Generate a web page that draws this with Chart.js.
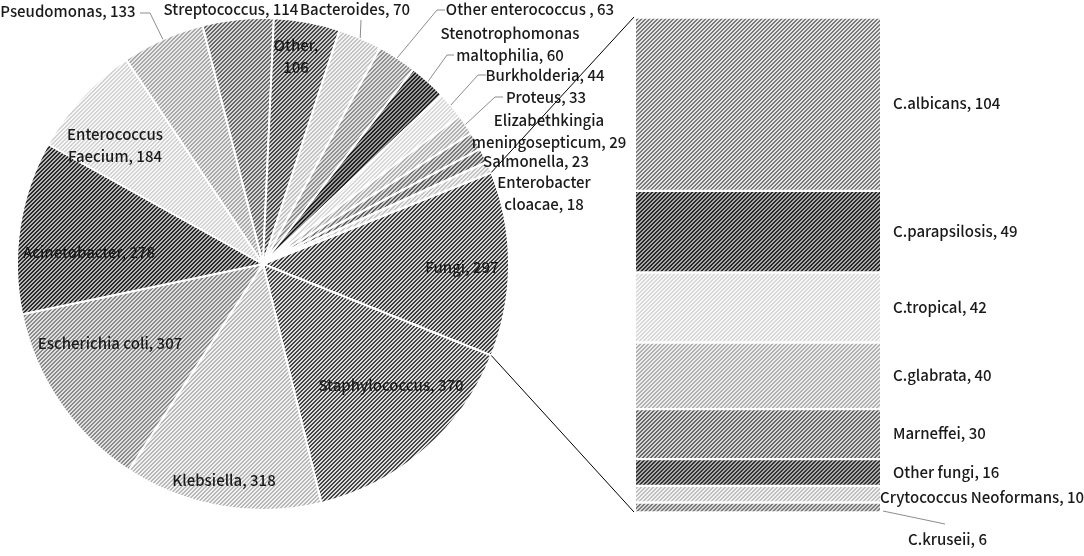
<!DOCTYPE html>
<html><head><meta charset="utf-8">
<script src="https://cdn.jsdelivr.net/npm/chart.js@4.4.0/dist/chart.umd.min.js"></script>
<style>
html,body{margin:0;padding:0;background:#fff;}
#wrap{position:relative;width:1084px;height:556px;}
canvas{position:absolute;left:0;top:0;}
</style></head><body>
<div id="wrap"><canvas id="pie" width="1084" height="556"></canvas><canvas id="bar" width="1084" height="556"></canvas></div>
<script>
// ---------- data ----------
const pieCategories = ['Fungi','Staphylococcus','Klebsiella','Escherichia coli','Acinetobacter','Enterococcus Faecium','Pseudomonas','Streptococcus','Other','Bacteroides','Other enterococcus ','Stenotrophomonas maltophilia','Burkholderia','Proteus','Elizabethkingia meningosepticum','Salmonella','Enterobacter cloacae'];
const pieValues = [297,370,318,307,278,184,133,114,106,70,63,60,44,33,29,23,18];
const fungiCategories = ['C.albicans','C.parapsilosis','C.tropical','C.glabrata','Marneffei','Other fungi','Crytococcus Neoformans','C.kruseii'];
const fungiValues = [104,49,42,40,30,16,10,6];

// ---------- styles ----------
const pieStyles = [
  ['#3c3c3c','#d6d6d6'],['#444444','#dedede'],['#b8b8b8','#f2f2f2'],['#8a8a8a','#e2e2e2'],
  ['#2a2a2a','#b6b6b6'],['#d2d2d2','#f8f8f8'],['#a8a8a8','#eaeaea'],['#666666','#d8d8d8'],
  ['#464646','#cccccc'],['#c4c4c4','#f3f3f3'],['#909090','#e0e0e0'],['#222222','#9c9c9c'],
  ['#d8d8d8','#f9f9f9'],['#b0b0b0','#eeeeee'],['#7a7a7a','#dadada'],['#5e5e5e','#d0d0d0'],['#c4c4c4','#f3f3f3']
];
const fungiStyles = [
  ['#7a7a7a','#e4e4e4'],['#282828','#a8a8a8'],['#d8d8d8','#f8f8f8'],['#b0b0b0','#eeeeee'],
  ['#686868','#d6d6d6'],['#333333','#aaaaaa'],['#c0c0c0','#f2f2f2'],['#7a7a7a','#d6d6d6']
];
const FONT = '500 15px "Noto Sans CJK SC", "Noto Sans", sans-serif';
const TEXT = '#1a1a1a';

function hatch(fg,bg){
  const c=document.createElement('canvas'); c.width=4; c.height=4;
  const g=c.getContext('2d');
  g.fillStyle=bg; g.fillRect(0,0,4,4);
  g.fillStyle=fg;
  for(let i=0;i<4;i++){ g.fillRect(i,3-i,1,1); g.fillRect((i+1)%4,3-i,1,1); }
  return g.createPattern(c,'repeat');
}

// label layout for pie (text centre + optional leader elbow/end)
const pieLabelLayout = {
  'Fungi':{x:462,y:267,lines:['Fungi, 297']},
  'Staphylococcus':{x:391,y:385,lines:['Staphylococcus, 370']},
  'Klebsiella':{x:224,y:480,lines:['Klebsiella, 318']},
  'Escherichia coli':{x:110,y:343,lines:['Escherichia coli, 307']},
  'Acinetobacter':{x:89,y:252,lines:['Acinetobacter, 278']},
  'Enterococcus Faecium':{x:115,y:134,lines:['Enterococcus','Faecium, 184']},
  'Pseudomonas':{x:68,y:11,lines:['Pseudomonas, 133'],leader:[[150,13],[140,13]]},
  'Streptococcus':{x:231,y:9,lines:['Streptococcus, 114']},
  'Other':{x:296,y:45,lines:['Other,','106']},
  'Bacteroides':{x:355,y:9,lines:['Bacteroides, 70'],leader:[[361,20]]},
  'Other enterococcus ':{x:530,y:9,lines:['Other enterococcus , 63'],leader:[[437,10],[445,10]]},
  'Stenotrophomonas maltophilia':{x:510,y:33,lines:['Stenotrophomonas','maltophilia, 60'],leader:[[447,55],[454,55]]},
  'Burkholderia':{x:545,y:75,lines:['Burkholderia, 44'],leader:[[478,75],[486,75]]},
  'Proteus':{x:546,y:97,lines:['Proteus, 33'],leader:[[495,97],[503,97]]},
  'Elizabethkingia meningosepticum':{x:549,y:120,lines:['Elizabethkingia','meningosepticum, 29']},
  'Salmonella':{x:536,y:161,lines:['Salmonella, 23']},
  'Enterobacter cloacae':{x:544,y:182,lines:['Enterobacter','cloacae, 18']}
};
const barLabelLayout = {
  'Crytococcus Neoformans':{dx:0,dy:4},
  'C.kruseii':{dx:28,dy:32,leader:[[3,4],[65,17]]}
};

function drawLines(ctx,lines,x,y,align){
  ctx.font=FONT; ctx.fillStyle=TEXT; ctx.textAlign=align; ctx.textBaseline='middle';
  lines.forEach((t,i)=>ctx.fillText(t,x,y+i*22));
}

const pieLabels = {
  id:'pieLabels',
  afterDatasetsDraw(chart){
    const ctx=chart.ctx; const meta=chart.getDatasetMeta(0);
    ctx.save();
    meta.data.forEach((arc,i)=>{
      const L=pieLabelLayout[pieCategories[i]]; if(!L) return;
      if(L.leader){
        const p=arc.getProps(['x','y','startAngle','endAngle','outerRadius'],true);
        const a=(p.startAngle+p.endAngle)/2;
        ctx.beginPath(); ctx.strokeStyle='#8c8c8c'; ctx.lineWidth=1;
        ctx.moveTo(p.x+p.outerRadius*Math.cos(a), p.y+p.outerRadius*Math.sin(a));
        L.leader.forEach(q=>ctx.lineTo(q[0],q[1]));
        ctx.stroke();
      }
      drawLines(ctx,L.lines,L.x,L.y,'center');
    });
    ctx.restore();
  }
};

const total = pieValues.reduce((a,b)=>a+b,0);
const pieChart = new Chart(document.getElementById('pie'),{
  type:'pie',
  data:{labels:pieCategories,datasets:[{data:pieValues,backgroundColor:pieStyles.map(s=>hatch(s[0],s[1])),borderColor:'#ffffff',borderWidth:2}]},
  options:{responsive:false,animation:false,devicePixelRatio:1,
    rotation: 90 - (pieValues[0]/total*360)/2,
    layout:{padding:{left:16,right:574,top:17,bottom:45}},
    plugins:{legend:{display:false},tooltip:{enabled:false}}},
  plugins:[pieLabels]
});

const barLabels = {
  id:'barLabels',
  afterDatasetsDraw(chart){
    const ctx=chart.ctx; ctx.save();
    const n=chart.data.datasets.length;
    const right=chart.chartArea.right;
    chart.data.datasets.forEach((ds,di)=>{
      const el=chart.getDatasetMeta(di).data[0];
      const cy=(el.y+el.base)/2;
      const name=ds.label;
      const L=barLabelLayout[name]||{dx:13,dy:0};
      if(L.leader){
        ctx.beginPath(); ctx.strokeStyle='#8c8c8c'; ctx.lineWidth=1;
        ctx.moveTo(right+L.leader[0][0],cy+L.leader[0][1]);
        ctx.lineTo(right+L.leader[1][0],cy+L.leader[1][1]); ctx.stroke();
      }
      drawLines(ctx,[name+', '+ds.data[0]],right+L.dx,cy+L.dy,'left');
    });
    // connector lines from the Fungi slice to the bar
    const arc=pieChart.getDatasetMeta(0).data[0];
    const p=arc.getProps(['x','y','startAngle','endAngle','outerRadius'],true);
    const topEl=chart.getDatasetMeta(n-1).data[0];
    const botEl=chart.getDatasetMeta(0).data[0];
    const left=topEl.x-topEl.width/2;
    ctx.beginPath(); ctx.strokeStyle='#000'; ctx.lineWidth=1;
    ctx.moveTo(p.x+p.outerRadius*Math.cos(p.startAngle),p.y+p.outerRadius*Math.sin(p.startAngle));
    ctx.lineTo(left-2,topEl.y);
    ctx.moveTo(p.x+p.outerRadius*Math.cos(p.endAngle),p.y+p.outerRadius*Math.sin(p.endAngle));
    ctx.lineTo(left-2,botEl.base);
    ctx.stroke();
    ctx.restore();
  }
};

const barOrder = fungiCategories.map((c,i)=>i).reverse();
new Chart(document.getElementById('bar'),{
  type:'bar',
  data:{labels:['Fungi'],datasets:barOrder.map(i=>({
    label:fungiCategories[i],data:[fungiValues[i]],
    backgroundColor:hatch(fungiStyles[i][0],fungiStyles[i][1]),
    borderColor:'#ffffff',borderWidth:{top:2,bottom:1,left:0,right:0},borderSkipped:false,
    categoryPercentage:1,barPercentage:1}))},
  options:{responsive:false,animation:false,devicePixelRatio:1,
    layout:{padding:{left:636,right:204,top:17,bottom:44}},
    scales:{x:{display:false,stacked:true},y:{display:false,stacked:true,min:0,max:fungiValues.reduce((a,b)=>a+b,0)}},
    plugins:{legend:{display:false},tooltip:{enabled:false}}},
  plugins:[barLabels]
});
</script>
</body></html>
